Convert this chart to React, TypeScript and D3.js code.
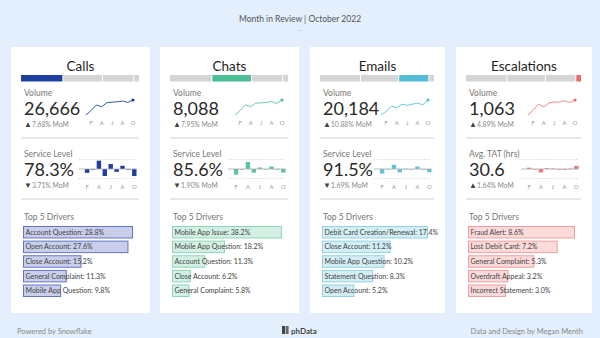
import React from "react";
import * as d3 from "d3";

const W = 600;
const H = 338;

// ---------- DATA ----------
const channels = ["Calls", "Chats", "Emails", "Escalations"];
const months = ["Jan", "Feb", "Mar", "Apr", "May", "Jun", "Jul", "Aug", "Sep", "Oct"];
const monthInitials = ["J", "F", "M", "A", "M", "J", "J", "A", "S", "O"];
const shareValues = [35.5, 33.5, 26.5, 4.5];

const volumeCalls = [15254, 18787, 22862, 21503, 24600, 25036, 25307, 25851, 24764, 26666];
const volumeChats = [5433, 6246, 7221, 6896, 7546, 7580, 7655, 7817, 7492, 8088];
const volumeEmails = [13870, 15480, 17584, 16965, 18350, 17956, 18451, 18822, 18203, 20184];
const volumeEscalations = [776, 870, 982, 932, 1007, 1026, 1022, 1051, 1013, 1063];
const volumeTotals = ["26,666", "8,088", "20,184", "1,063"];
const volumeMoM = [7.68, 7.95, 10.88, 4.89];

const secondaryLabels = ["Service Level", "Service Level", "Service Level", "Avg. TAT (hrs)"];
const secondaryValues = ["78.3%", "85.6%", "91.5%", "30.6"];
const secondaryMoM = [-3.71, -1.9, -1.69, 1.64];

const changeCalls = [null, -2.0, -0.3, 4.4, -3.7, 2.6, -1.5, 1.7, -0.3, -3.71];
const changeChats = [null, -3.0, -0.3, 3.7, -1.9, 0.8, -0.3, 1.3, -0.2, -1.9];
const changeEmails = [null, -2.4, -0.2, 2.2, -1.8, 0.1, -0.1, 1.3, -0.1, -1.69];
const changeEscalations = [null, 0.7, -0.3, -1.8, 0.4, 0.2, -0.3, -0.4, 0.2, 1.64];

const driverNamesCalls = ["Account Question", "Open Account", "Close Account", "General Complaint", "Mobile App Question"];
const driverValuesCalls = [28.8, 27.6, 15.2, 11.3, 9.8];
const driverNamesChats = ["Mobile App Issue", "Mobile App Question", "Account Question", "Close Account", "General Complaint"];
const driverValuesChats = [38.2, 18.2, 11.3, 6.2, 5.8];
const driverNamesEmails = ["Debit Card Creation/Renewal", "Close Account", "Mobile App Question", "Statement Question", "Open Account"];
const driverValuesEmails = [17.4, 11.2, 10.2, 8.3, 5.2];
const driverNamesEscalations = ["Fraud Alert", "Lost Debit Card", "General Complaint", "Overdraft Appeal", "Incorrect Statement"];
const driverValuesEscalations = [8.6, 7.2, 5.3, 3.2, 3.0];

// ---------- STYLE / LAYOUT ----------
const volumes = [volumeCalls, volumeChats, volumeEmails, volumeEscalations];
const changes = [changeCalls, changeChats, changeEmails, changeEscalations];
const driverNames = [driverNamesCalls, driverNamesChats, driverNamesEmails, driverNamesEscalations];
const driverValues = [driverValuesCalls, driverValuesChats, driverValuesEmails, driverValuesEscalations];

const mainColors = ["#1f3f9e", "#4dbf94", "#56bdd6", "#ee6a6a"];
const lineColors = ["#3552b0", "#6fcca8", "#6cc8de", "#f28a8a"];
const barFills = ["#c9cfea", "#d4f0e4", "#d4eef5", "#fbdada"];
const barStrokes = ["#6476c2", "#8fd6b9", "#92d2e4", "#f0a0a0"];
const cardX = [11, 160, 310, 456];
const cardW = [139, 139, 135, 136];
const FONT = "Lato, 'Noto Sans', sans-serif";

function fmtMoM(v: number) {
  return Math.abs(v).toFixed(2) + "% MoM";
}

function Card({ i }: { i: number }) {
  const x0 = cardX[i];
  const w = cardW[i];
  const x1 = x0 + w;
  const total = d3.sum(shareValues);
  const segX = d3.scaleLinear().domain([0, total]).range([x0 + 10, x1 - 11]);
  let cum = 0;
  const segs = shareValues.map((v, k) => {
    const a = cum;
    cum += v;
    return { a, b: cum, k };
  });

  const vol = volumes[i];
  const xs = d3.scalePoint<string>().domain(months).range([x1 - 64, x1 - 17]);
  const ys = d3.scaleLinear().domain(d3.extent(vol) as [number, number]).range([115, 100]);
  const line = d3
    .line<number>()
    .x((_, k) => xs(months[k]) as number)
    .y((d) => ys(d));

  const ch = changes[i];
  const xb = d3.scaleBand<string>().domain(months).range([x1 - 71, x1 - 13.5]).paddingInner(0.25);
  const yb = d3.scaleLinear().domain([-5, 5]).range([178.5, 159.5]);

  const dn = driverNames[i];
  const dv = driverValues[i];
  const xd = d3.scaleLinear().domain([0, d3.max(dv) as number]).range([0, w - 30]);
  const yd = d3.scaleBand<number>().domain(d3.range(5)).range([226, 226 + 14 * 5]).paddingInner(3 / 14);

  const up = volumeMoM[i] >= 0;
  const up2 = secondaryMoM[i] >= 0;

  return (
    <g>
      <rect x={x0} y={47} width={w} height={266} fill="#ffffff" />
      <text x={x0 + w / 2} y={70.5} textAnchor="middle" fontSize={13.5} fontWeight={400} fill="#1e1e1e">
        {channels[i]}
      </text>
      {segs.map((s) => (
        <rect
          key={s.k}
          x={segX(s.a) + (s.k > 0 ? 0.5 : 0)}
          y={75}
          width={segX(s.b) - segX(s.a) - (s.k > 0 ? 0.5 : 0) - (s.k < 3 ? 0.5 : 0)}
          height={6.5}
          fill={s.k === i ? mainColors[i] : "#d5d5d5"}
        />
      ))}

      <text x={x0 + 13} y={96} fontSize={8.5} fill="#777">Volume</text>
      <text x={x0 + 13} y={115} fontSize={18} fontWeight={400} fill="#2a2a2a">{volumeTotals[i]}</text>
      <text x={x0 + 13} y={126.5} fontSize={6.8} fill="#888">
        <tspan fill="#444" fontSize={8}>{up ? "▲" : "▼"}</tspan>
        {fmtMoM(volumeMoM[i])}
      </text>
      <path d={line(vol) || ""} fill="none" stroke={lineColors[i]} strokeWidth={1} />
      <circle cx={xs(months[9]) as number} cy={ys(vol[9])} r={1.6} fill={mainColors[i]} />
      {months.map((m, k) =>
        k % 2 === 1 ? (
          <text key={m} x={xs(m) as number} y={124.5} fontSize={5.8} textAnchor="middle" fill="#999">
            {monthInitials[k]}
          </text>
        ) : null
      )}

      <line x1={x0 + 10} x2={x1 - 11} y1={138} y2={138} stroke="#d0d0d0" strokeWidth={1} />

      <text x={x0 + 13} y={157} fontSize={8.5} fill="#777">{secondaryLabels[i]}</text>
      <text x={x0 + 13} y={176} fontSize={18} fontWeight={400} fill="#2a2a2a">{secondaryValues[i]}</text>
      <text x={x0 + 13} y={188} fontSize={6.8} fill="#888">
        <tspan fill="#444" fontSize={8}>{up2 ? "▲" : "▼"}</tspan>
        {fmtMoM(secondaryMoM[i])}
      </text>
      <line x1={xb.range()[0]} x2={xb.range()[1]} y1={yb(5)} y2={yb(5)} stroke="#c8c8c8" strokeWidth={0.8} strokeDasharray="1,1.5" />
      <line x1={xb.range()[0]} x2={xb.range()[1]} y1={yb(-5)} y2={yb(-5)} stroke="#c8c8c8" strokeWidth={0.8} strokeDasharray="1,1.5" />
      {ch.map((v, k) =>
        v === null ? null : (
          <rect
            key={k}
            x={xb(months[k]) as number}
            y={Math.min(yb(v), yb(0))}
            width={xb.bandwidth()}
            height={Math.max(0.6, Math.abs(yb(v) - yb(0)))}
            fill={mainColors[i]}
            opacity={i === 0 ? 1 : 0.9}
          />
        )
      )}
      <line x1={xb.range()[0]} x2={xb.range()[1]} y1={yb(0)} y2={yb(0)} stroke="#a8a8a8" strokeWidth={0.8} />
      {months.map((m, k) =>
        k % 2 === 1 ? (
          <text key={m} x={(xb(m) as number) + xb.bandwidth() / 2} y={189} fontSize={5.8} textAnchor="middle" fill="#999">
            {monthInitials[k]}
          </text>
        ) : null
      )}

      <line x1={x0 + 10} x2={x1 - 11} y1={199} y2={199} stroke="#d0d0d0" strokeWidth={1} />
      <text x={x0 + 13} y={220} fontSize={8.5} fill="#777">Top 5 Drivers</text>
      {dv.map((v, k) => (
        <g key={k}>
          <rect
            x={x0 + 12.5}
            y={(yd(k) as number) + 0.5}
            width={xd(v)}
            height={yd.bandwidth()}
            fill={barFills[i]}
            stroke={barStrokes[i]}
            strokeWidth={1}
          />
          <text x={x0 + 14.5} y={(yd(k) as number) + yd.bandwidth() / 2 + 3} fontSize={7} fill="#444">
            {dn[k]}: {v.toFixed(1)}%
          </text>
        </g>
      ))}
    </g>
  );
}

export default function App() {
  return (
    <svg
      width={W}
      height={H}
      style={{ position: "absolute", left: 0, top: 0, fontFamily: FONT }}
      fontFamily={FONT}
    >
      <rect x={0} y={0} width={W} height={H} fill="#e3effd" />
      <text x={W / 2} y={22} textAnchor="middle" fontSize={8.5} fill="#555">
        Month in Review | October 2022
      </text>
      <line x1={299} x2={302} y1={30.5} y2={30.5} stroke="#b8c4d4" strokeWidth={0.8} />
      {channels.map((_, i) => (
        <Card key={i} i={i} />
      ))}
      <text x={17} y={334} fontSize={7.5} fill="#888">Powered by Snowflake</text>
      <text x={583} y={334} fontSize={7.5} fill="#888" textAnchor="end">Data and Design by Megan Menth</text>
      <g>
        <rect x={282} y={326} width={3} height={8} fill="#444" />
        <rect x={285.6} y={326} width={3} height={8} fill="#666" />
        <text x={291} y={334} fontSize={8} fontWeight={600} fill="#333">phData</text>
      </g>
    </svg>
  );
}
